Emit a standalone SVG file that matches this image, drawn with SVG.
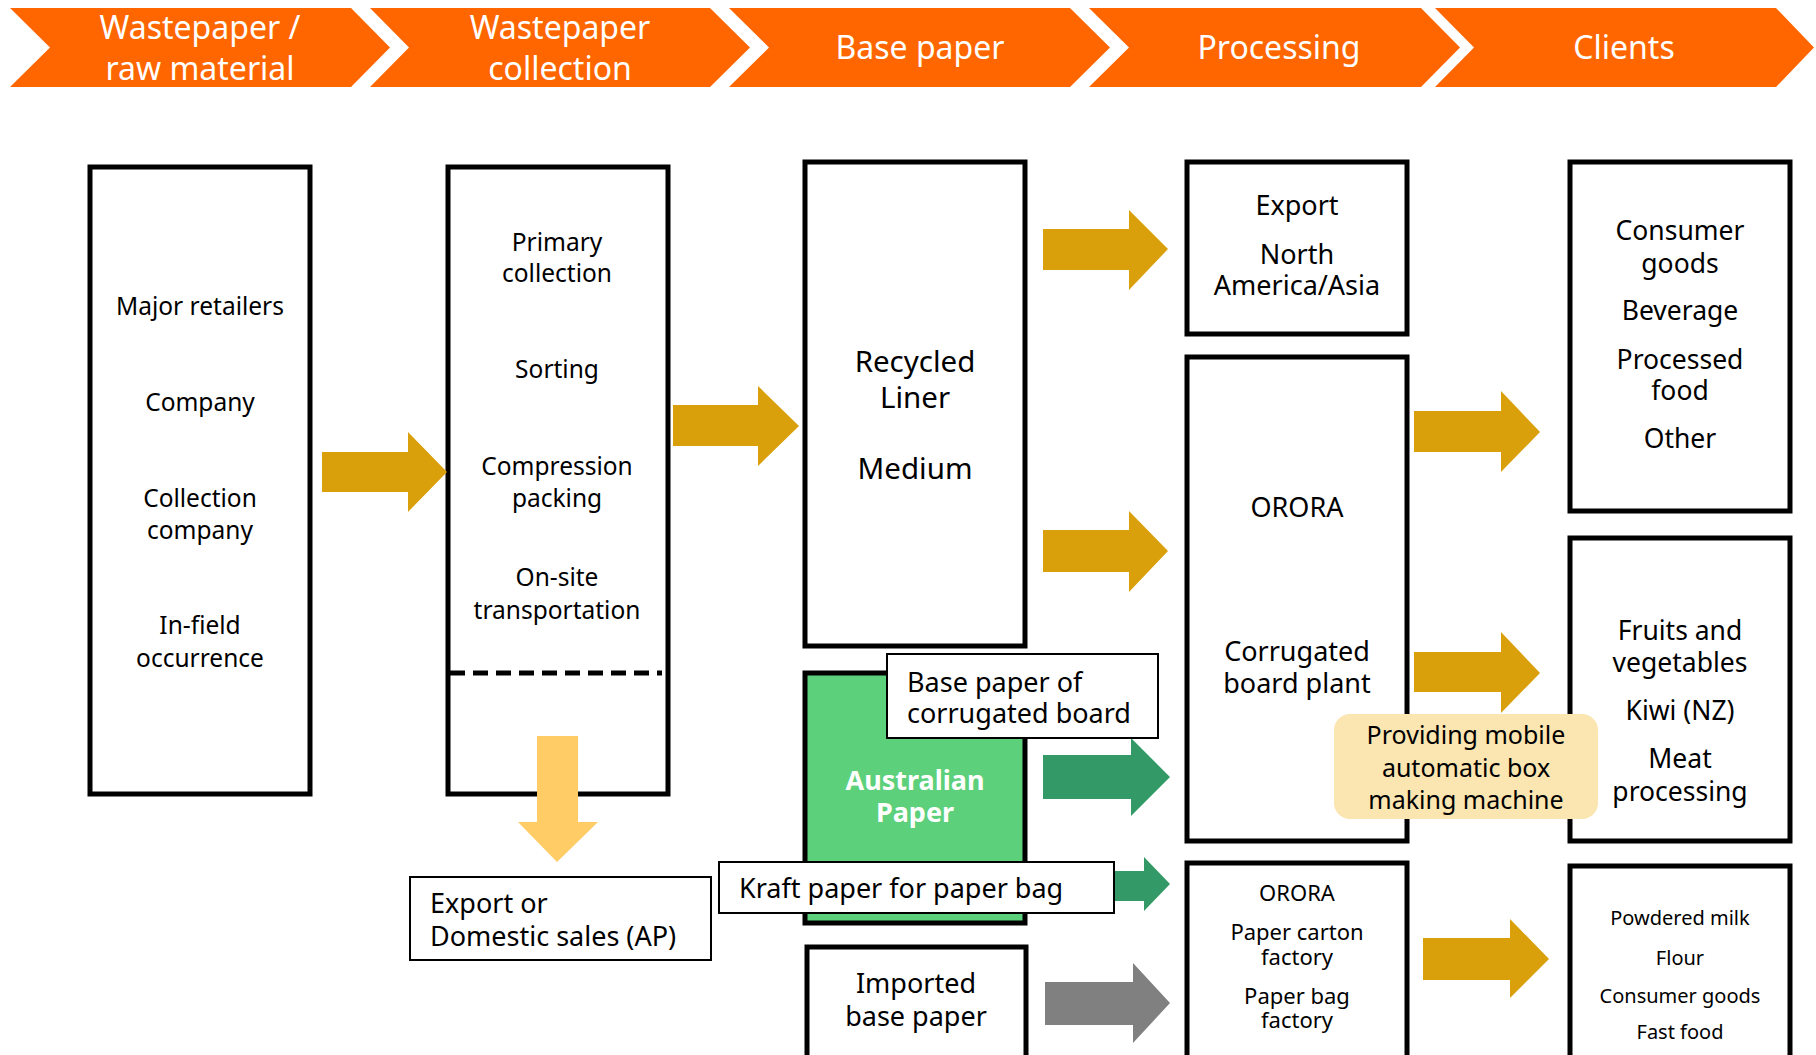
<svg xmlns="http://www.w3.org/2000/svg" width="1816" height="1055" viewBox="0 0 1816 1055">
<style>
text{font-family:"Noto Sans","Open Sans","DejaVu Sans",sans-serif;fill:#000;text-anchor:middle}
.hdr{fill:#FF6600}
.ht{fill:#fff;font-size:32px}
.box{fill:#fff;stroke:#000;stroke-width:5}
.lbl{fill:#fff;stroke:#000;stroke-width:2}
.s24{font-size:24.5px}
.s27{font-size:27px}
.s26{font-size:26.5px}
.s29{font-size:29.5px}
.s22{font-size:22px}
.s20{font-size:20px}
.la{text-anchor:start}
.gold{fill:#DAA00C}
.grn{fill:#339966}
.gry{fill:#808080}
.ylw{fill:#FFCC66}
</style>
<g id="header">
<g id="h1"><polygon class="hdr" points="10,8 351,8 390,47.5 351,87 10,87 50,47.5"/><text class="ht" x="200" y="39">Wastepaper /<tspan x="200" y="80">raw material</tspan></text></g>
<g id="h2"><polygon class="hdr" points="370,8 710,8 750,47.5 710,87 370,87 409,47.5"/><text class="ht" x="560" y="39">Wastepaper<tspan x="560" y="80">collection</tspan></text></g>
<g id="h3"><polygon class="hdr" points="729,8 1070,8 1110,47.5 1070,87 729,87 769,47.5"/><text class="ht" x="920" y="59">Base paper</text></g>
<g id="h4"><polygon class="hdr" points="1089,8 1421,8 1460,47.5 1421,87 1089,87 1129,47.5"/><text class="ht" x="1279" y="59">Processing</text></g>
<g id="h5"><polygon class="hdr" points="1435,8 1776,8 1814,47.5 1776,87 1435,87 1474,47.5"/><text class="ht" x="1624" y="59">Clients</text></g>
</g>
<g id="wastepaper-sources">
<rect class="box" x="90" y="167" width="220" height="627"/>
<text class="s24" x="200" y="315">Major retailers</text>
<text class="s24" x="200" y="411">Company</text>
<text class="s24" x="200" y="507">Collection<tspan x="200" y="539">company</tspan></text>
<text class="s24" x="200" y="634">In-field<tspan x="200" y="667">occurrence</tspan></text>
</g>
<g id="collection">
<rect class="box" x="448" y="167" width="220" height="627"/>
<line x1="450" y1="673" x2="662" y2="673" stroke="#000" stroke-width="5" stroke-dasharray="15,8"/>
<text class="s24" x="557" y="251">Primary<tspan x="557" y="282">collection</tspan></text>
<text class="s24" x="557" y="378">Sorting</text>
<text class="s24" x="557" y="475">Compression<tspan x="557" y="507">packing</tspan></text>
<text class="s24" x="557" y="586">On-site<tspan x="557" y="619">transportation</tspan></text>
</g>
<g id="recycled">
<rect class="box" x="805" y="162" width="220" height="484"/>
<text class="s29" x="915" y="372">Recycled<tspan x="915" y="408">Liner</tspan></text>
<text class="s29" x="915" y="479">Medium</text>
</g>
<g id="australian-paper">
<rect x="805" y="673" width="220" height="250" fill="#5CD07A" stroke="#000" stroke-width="5"/>
<text class="s27" x="915" y="790" font-weight="bold" style="fill:#fff">Australian<tspan x="915" y="822">Paper</tspan></text>
</g>
<g id="imported">
<rect class="box" x="807" y="947" width="219" height="120"/>
<text class="s27" x="916" y="993">Imported<tspan x="916" y="1026">base paper</tspan></text>
</g>
<g id="export">
<rect class="box" x="1187" y="162" width="220" height="172"/>
<text class="s27" x="1297" y="215">Export</text>
<text class="s27" x="1297" y="264">North<tspan x="1297" y="295">America/Asia</tspan></text>
</g>
<g id="orora-corrugated">
<rect class="box" x="1187" y="357" width="220" height="484"/>
<text class="s27" x="1297" y="517">ORORA</text>
<text class="s27" x="1297" y="661">Corrugated<tspan x="1297" y="693">board plant</tspan></text>
</g>
<g id="orora-carton">
<rect class="box" x="1187" y="863" width="220" height="205"/>
<text class="s22" x="1297" y="901">ORORA</text>
<text class="s22" x="1297" y="940">Paper carton<tspan x="1297" y="965">factory</tspan></text>
<text class="s22" x="1297" y="1004">Paper bag<tspan x="1297" y="1028">factory</tspan></text>
</g>
<g id="clients-consumer">
<rect class="box" x="1570" y="162" width="220" height="349"/>
<text class="s26" x="1680" y="240">Consumer<tspan x="1680" y="273">goods</tspan></text>
<text class="s26" x="1680" y="320">Beverage</text>
<text class="s26" x="1680" y="369">Processed<tspan x="1680" y="400">food</tspan></text>
<text class="s26" x="1680" y="448">Other</text>
</g>
<g id="clients-fruits">
<rect class="box" x="1570" y="538" width="220" height="303"/>
<text class="s26" x="1680" y="640">Fruits and<tspan x="1680" y="672">vegetables</tspan></text>
<text class="s26" x="1680" y="720">Kiwi (NZ)</text>
<text class="s26" x="1680" y="768">Meat<tspan x="1680" y="801">processing</tspan></text>
</g>
<g id="clients-food">
<rect class="box" x="1570" y="866" width="220" height="202"/>
<text class="s20" x="1680" y="925">Powdered milk</text>
<text class="s20" x="1680" y="965">Flour</text>
<text class="s20" x="1680" y="1003">Consumer goods</text>
<text class="s20" x="1680" y="1039">Fast food</text>
</g>
<g id="connectors">
<polygon class="gold" points="322,452 408,452 408,432 447,472 408,512 408,492 322,492"/>
<polygon class="gold" points="673,405 758,405 758,386 799,426 758,466 758,446 673,446"/>
<polygon class="gold" points="1043,229 1129,229 1129,210 1168,249 1129,290 1129,270 1043,270"/>
<polygon class="gold" points="1043,530 1129,530 1129,511 1168,551 1129,592 1129,572 1043,572"/>
<polygon class="gold" points="1414,411 1501,411 1501,391 1540,432 1501,472 1501,452 1414,452"/>
<polygon class="gold" points="1414,652 1501,652 1501,632 1540,673 1501,713 1501,692 1414,692"/>
<polygon class="gold" points="1423,938 1510,938 1510,919 1549,959 1510,998 1510,980 1423,980"/>
<polygon class="grn" points="1043,755 1131,755 1131,738 1170,777 1131,816 1131,799 1043,799"/>
<polygon class="grn" points="1110,871 1144,871 1144,857 1170,884 1144,911 1144,901 1110,901"/>
<polygon class="gry" points="1045,982 1133,982 1133,963 1170,1003 1133,1043 1133,1025 1045,1025"/>
<polygon class="ylw" points="537,736 578,736 578,822 598,822 557,862 518,822 537,822"/>
</g>
<g id="label-base-paper">
<rect class="lbl" x="887" y="654" width="271" height="84"/>
<text class="s27 la" x="907" y="692">Base paper of<tspan x="907" y="723">corrugated board</tspan></text>
</g>
<g id="label-kraft">
<rect class="lbl" x="719" y="862" width="395" height="51"/>
<text class="s27 la" x="739" y="898">Kraft paper for paper bag</text>
</g>
<g id="export-domestic">
<rect class="lbl" x="410" y="877" width="301" height="83"/>
<text class="s27 la" x="430" y="913">Export or<tspan x="430" y="946">Domestic sales (AP)</tspan></text>
</g>
<g id="callout">
<rect x="1334" y="714" width="264" height="105" rx="16" fill="#FBE5B0"/>
<text x="1466" y="744" style="font-size:25px">Providing mobile<tspan x="1466" y="777">automatic box</tspan><tspan x="1466" y="809">making machine</tspan></text>
</g>
</svg>
